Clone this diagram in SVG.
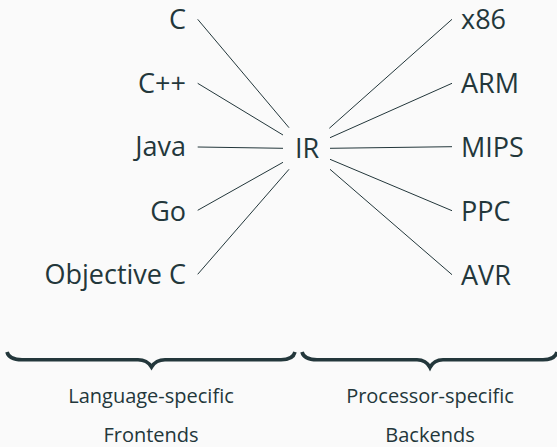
<svg xmlns="http://www.w3.org/2000/svg" width="557" height="447" viewBox="0 0 557 447">
  <style>
    .lbl { font-family: "Open Sans", "Noto Sans", sans-serif; font-size: 27px; fill: #23373b; }
    .cap { font-family: "Open Sans", "Noto Sans", sans-serif; font-size: 20px; fill: #23373b; text-anchor: middle; }
    .left { text-anchor: end; }
    .edge { stroke: #23373b; stroke-width: 1; fill: none; }
    .brace { stroke: #23373b; stroke-width: 3.6; fill: none; stroke-linecap: butt; stroke-linejoin: miter; }
  </style>
  <rect width="557" height="447" fill="#fafafa"/>

  <!-- connectors: each source/target to the IR hub -->
  <g id="connectors">
    <line class="edge" x1="197.7" y1="19.3" x2="289" y2="127.7"/>
    <line class="edge" x1="197.7" y1="83.3" x2="283" y2="135"/>
    <line class="edge" x1="197.7" y1="147" x2="283" y2="148.3"/>
    <line class="edge" x1="197.7" y1="210.3" x2="283" y2="162.3"/>
    <line class="edge" x1="197.7" y1="274.3" x2="289" y2="169.3"/>
    <line class="edge" x1="452" y1="19.3" x2="329.3" y2="128.3"/>
    <line class="edge" x1="452" y1="83.3" x2="330" y2="137.7"/>
    <line class="edge" x1="452" y1="146.7" x2="330" y2="148.3"/>
    <line class="edge" x1="452" y1="210.7" x2="330" y2="159.3"/>
    <line class="edge" x1="452" y1="274.7" x2="330" y2="169.3"/>
  </g>

  <!-- frontends -->
  <g id="c"><text class="lbl left" x="186" y="28.8">C</text></g>
  <g id="cpp"><text class="lbl left" x="186" y="92.6">C++</text></g>
  <g id="java"><text class="lbl left" x="186" y="156.2">Java</text></g>
  <g id="go"><text class="lbl left" x="186" y="220.8">Go</text></g>
  <g id="objc"><text class="lbl left" x="186" y="284">Objective C</text></g>

  <!-- intermediate representation -->
  <g id="ir"><text class="lbl" x="307" y="157.5" text-anchor="middle">IR</text></g>

  <!-- backends -->
  <g id="x86"><text class="lbl" x="461" y="29">x86</text></g>
  <g id="arm"><text class="lbl" x="461" y="93">ARM</text></g>
  <g id="mips"><text class="lbl" x="461" y="157">MIPS</text></g>
  <g id="ppc"><text class="lbl" x="461" y="221">PPC</text></g>
  <g id="avr"><text class="lbl" x="461" y="285">AVR</text></g>

  <!-- grouping braces -->
  <g id="frontends-brace">
    <path class="brace" d="M7,352 Q9,359.8 22,359.8 L138,359.8 Q147,359.8 151.5,367 Q156,359.8 165,359.8 L281,359.8 Q293,359.8 295,352"/>
    <text class="cap" x="151" y="403">Language-specific</text>
    <text class="cap" x="151" y="442">Frontends</text>
  </g>
  <g id="backends-brace">
    <path class="brace" d="M302,352 Q304,359.8 317,359.8 L417,359.8 Q426,359.8 430,367.5 Q434,359.8 443,359.8 L543,359.8 Q555,359.8 557,352"/>
    <text class="cap" x="430" y="403">Processor-specific</text>
    <text class="cap" x="430" y="442">Backends</text>
  </g>
</svg>
